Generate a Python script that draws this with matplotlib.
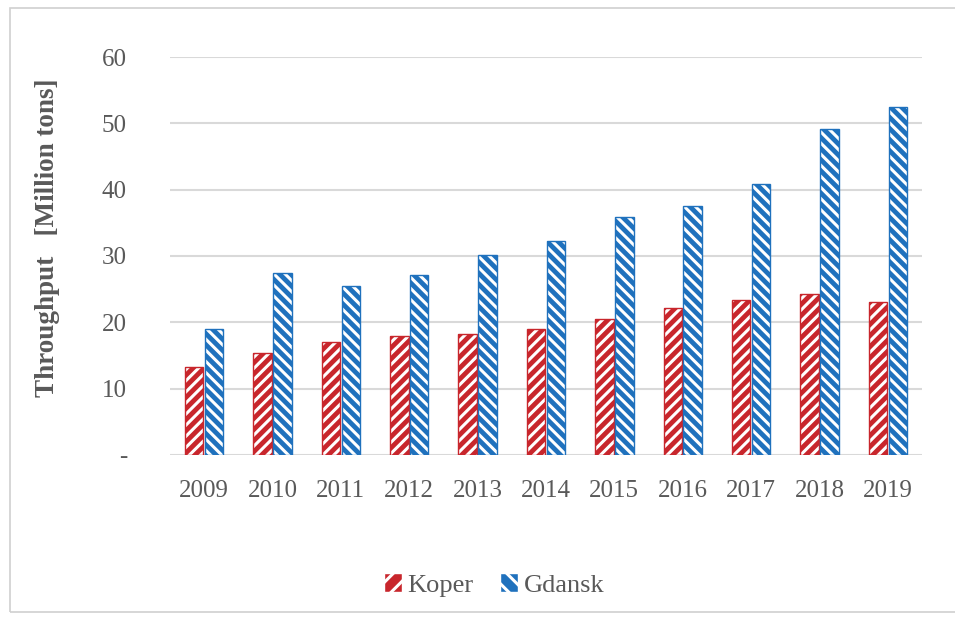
"""
Port throughput chart: Koper vs Gdansk, 2009-2019.
Clustered hatched bars in an Excel-like style.
"""

import matplotlib
matplotlib.use("Agg")
import matplotlib.pyplot as plt
from matplotlib.patches import Rectangle, Patch
import numpy as np

# data (million tons)
years = ["2009", "2010", "2011", "2012", "2013", "2014",
         "2015", "2016", "2017", "2018", "2019"]
koper = [13.3, 15.4, 17.0, 17.9, 18.2, 19.0, 20.5, 22.2, 23.4, 24.3, 23.1]
gdansk = [19.0, 27.5, 25.5, 27.1, 30.2, 32.3, 35.9, 37.5, 40.8, 49.2, 52.5]
y_ticks = [0, 10, 20, 30, 40, 50, 60]
y_tick_labels = ["-", "10", "20", "30", "40", "50", "60"]

RED = "#C8262C"
BLUE = "#1F71BD"
GRAY_TXT = "#595959"

plt.rcParams["font.family"] = ["Liberation Serif", "DejaVu Serif"]
plt.rcParams["hatch.linewidth"] = 2.2

fig = plt.figure(figsize=(9.55, 6.18), dpi=100)
ax = fig.add_axes([170 / 955, 1 - 455 / 618, (922 - 170) / 955, (455 - 57) / 618])

x = np.arange(len(years))
w = 0.27
gap = 0.01

# filled bars with white hatch, then a coloured outline on top
ax.bar(x - w / 2 - gap, koper, w, color=RED, edgecolor="white", hatch="///",
       linewidth=0, zorder=3)
ax.bar(x - w / 2 - gap, koper, w, fill=False, edgecolor=RED, linewidth=1.0,
       zorder=4)
ax.bar(x + w / 2 + gap, gdansk, w, color=BLUE, edgecolor="white", hatch="\\\\\\",
       linewidth=0, zorder=3)
ax.bar(x + w / 2 + gap, gdansk, w, fill=False, edgecolor=BLUE, linewidth=1.0,
       zorder=4)

ax.set_xlim(-0.5, len(years) - 0.5)
ax.set_ylim(0, 60)
ax.set_yticks(y_ticks)
ax.set_yticklabels(y_tick_labels)
ax.set_xticks(x)
ax.set_xticklabels(years)
ax.tick_params(axis="both", length=0, labelsize=18, colors=GRAY_TXT)
ax.tick_params(axis="y", pad=31)
ax.tick_params(axis="x", pad=18)
ax.grid(axis="y", color="#D9D9D9", linewidth=1.5, zorder=0)
for s in ax.spines.values():
    s.set_visible(False)

fig.text(47 / 955, 1 - 238 / 618, "Throughput   [Million tons]", rotation=90,
         ha="center", va="center", fontsize=19.5, fontweight="bold", color=GRAY_TXT)

handles = [Patch(facecolor=RED, edgecolor="white", hatch="//", label="Koper"),
           Patch(facecolor=BLUE, edgecolor="white", hatch="\\\\", label="Gdansk")]
leg = fig.legend(handles=handles, loc="center", bbox_to_anchor=(494 / 955, 1 - 585 / 618),
                 ncol=2, frameon=False, fontsize=19, handlelength=0.7, handleheight=0.7,
                 handletextpad=0.2, columnspacing=1.0)
for t in leg.get_texts():
    t.set_color(GRAY_TXT)

# thin frame around the whole chart
fig.patches.append(Rectangle((10 / 955, 6 / 618), 1.0, 1 - 14 / 618,
                             transform=fig.transFigure, fill=False,
                             edgecolor="#D0D0D0", linewidth=1.2))

fig.savefig("out.png", dpi=100)
